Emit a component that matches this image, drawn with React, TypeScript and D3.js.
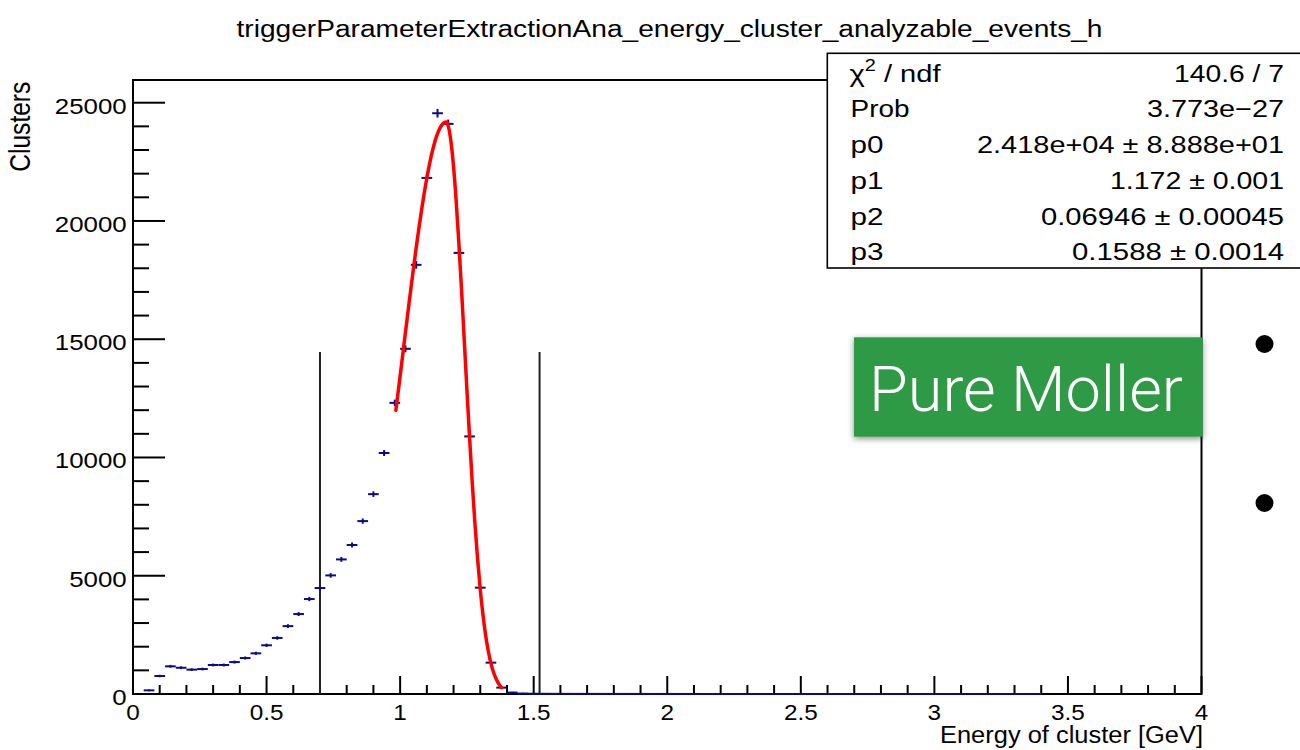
import React from "react";
import * as d3 from "d3";

// ---- data ----
const binWidth = 0.04;
const binCenters: number[] = d3.range(100).map((i) => 0.02 + i * 0.04);
const counts: number[] = [
  0, 155, 760, 1170, 1110, 1030, 1055, 1225, 1225, 1350,
  1520, 1720, 2060, 2370, 2870, 3380, 4015, 4480, 5015, 5690,
  6300, 7310, 8450, 10190, 12310, 14595, 18145, 21820, 24555, 24105,
  18650, 10890, 4495, 1325, 270, 60, 20, 12, 9, 7,
  6, 5, 5, 4, 4, 3, 3, 3, 2, 2,
  2, 2, 2, 1, 1, 1, 1, 1, 1, 1,
  1, 1, 1, 1, 1, 1, 1, 1, 1, 1,
  1, 1, 1, 1, 1, 1, 1, 1, 1, 1,
  1, 1, 1, 1, 1, 0, 0, 0, 0, 0,
  0, 0, 0, 0, 0, 0, 0, 0, 0, 0,
];

// fit curve
const fitX: number[] = [
  0.984, 0.99, 1.0, 1.01, 1.02, 1.03, 1.04, 1.05, 1.06, 1.07, 1.08, 1.09, 1.1, 1.11,
  1.12, 1.13, 1.14, 1.15, 1.16, 1.165, 1.172, 1.18, 1.19, 1.2, 1.21, 1.22, 1.23,
  1.24, 1.25, 1.26, 1.27, 1.28, 1.29, 1.3, 1.31, 1.32, 1.33, 1.34, 1.35, 1.36, 1.37, 1.38,
];
const fitY: number[] = [
  11995, 12540, 13447, 14370, 15294, 16210, 17118, 18000, 18855, 19673, 20445, 21162, 21818, 22405,
  22918, 23348, 23694, 23949, 24111, 24157, 24180, 24020, 23382, 22294, 20820, 19044, 17064,
  14975, 12871, 10838, 8937, 7218, 5711, 4425, 3359, 2498, 1819, 1298, 906, 620, 416, 273,
];

const cutLines: number[] = [0.7, 1.522];
const cutTop = 14460;

const xMajor: number[] = [0, 0.5, 1, 1.5, 2, 2.5, 3, 3.5, 4];
const xMajorLabels: string[] = ["0", "0.5", "1", "1.5", "2", "2.5", "3", "3.5", "4"];
const yMajor: number[] = [0, 5000, 10000, 15000, 20000, 25000];
const yMajorLabels: string[] = ["0", "5000", "10000", "15000", "20000", "25000"];

const statNames: string[] = ["χ2 / ndf", "Prob", "p0", "p1", "p2", "p3"];
const statValues: string[] = [
  "140.6 / 7",
  "3.773e\u221227",
  "2.418e+04 ± 8.888e+01",
  "1.172 ± 0.001",
  "0.06946 ± 0.00045",
  "0.1588 ± 0.0014",
];
const statNameWidths: number[] = [91, 59, 33, 33, 33, 33];
const statValueWidths: number[] = [110, 137, 307, 174, 243, 212];

const title = "triggerParameterExtractionAna_energy_cluster_analyzable_events_h";
const xTitle = "Energy of cluster [GeV]";
const yTitle = "Clusters";
const boxText = "Pure Moller";

const FONT = "'Liberation Sans', Arial, Helvetica, sans-serif";

export default function App() {
  const L = 133, R = 1201.5, T = 80, B = 694;
  const x = d3.scaleLinear().domain([0, 4]).range([L, R]);
  const y = d3.scaleLinear().domain([0, 25960]).range([B, T]);

  const xMinor = d3.range(0, 40.001, 1).map((i) => i / 10).filter((v) => Math.abs((v * 2) - Math.round(v * 2)) > 1e-6);
  const yMinor = d3.range(0, 26000, 1000).filter((v) => v % 5000 !== 0);

  const fitLine = d3
    .line<number>()
    .x((_, i) => x(fitX[i]))
    .y((d) => y(d))
    .curve(d3.curveMonotoneX)(fitY) as string;

  const blue = "#0b0b86";

  return (
    <svg
      width={1300}
      height={750}
      style={{ position: "absolute", left: 0, top: 0, background: "#fff" }}
      fontFamily={FONT}
    >
      <defs>
        <filter id="shadow" x="-10%" y="-20%" width="120%" height="150%">
          <feDropShadow dx="0" dy="2" stdDeviation="3" floodColor="#000" floodOpacity="0.45" />
        </filter>
      </defs>
      <rect x={0} y={0} width={1300} height={750} fill="#fff" />

      {/* title */}
      <text x={236.5} y={36.7} fontSize={23.5} textLength={866} lengthAdjust="spacingAndGlyphs" fill="#000">
        {title}
      </text>

      {/* frame */}
      <rect x={L} y={T} width={R - L} height={B - T} fill="none" stroke="#000" strokeWidth={2} />

      {/* x ticks */}
      {xMajor.map((v) => (
        <line key={"xM" + v} x1={x(v)} x2={x(v)} y1={B} y2={B - 18} stroke="#000" strokeWidth={2} />
      ))}
      {xMinor.map((v) => (
        <line key={"xm" + v} x1={x(v)} x2={x(v)} y1={B} y2={B - 9} stroke="#000" strokeWidth={2} />
      ))}
      {xMajor.map((v, i) => (
        <text
          key={"xl" + v}
          transform={`translate(${x(v)},719.5) scale(1.08,1)`}
          textAnchor="middle"
          fontSize={22.5}
          fill="#000"
        >
          {xMajorLabels[i]}
        </text>
      ))}
      <text
        x={1203}
        y={742.7}
        textAnchor="end"
        fontSize={23.5}
        textLength={263}
        lengthAdjust="spacingAndGlyphs"
        fill="#000"
      >
        {xTitle}
      </text>

      {/* y ticks */}
      {yMajor.map((v) => (
        <line key={"yM" + v} x1={L} x2={L + 32} y1={y(v)} y2={y(v)} stroke="#000" strokeWidth={2} />
      ))}
      {yMinor.map((v) => (
        <line key={"ym" + v} x1={L} x2={L + 16} y1={y(v)} y2={y(v)} stroke="#000" strokeWidth={2} />
      ))}
      {yMajor.map((v, i) => (
        <text
          key={"yl" + v}
          transform={`translate(126.7,${y(v) + 10.9}) scale(1.15,1)`}
          textAnchor="end"
          fontSize={22.5}
          fill="#000"
        >
          {yMajorLabels[i]}
        </text>
      ))}
      <text
        transform={`translate(30,81.7) rotate(-90) scale(1,1.2)`}
        textAnchor="end"
        fontSize={24.5}
        textLength={90}
        lengthAdjust="spacingAndGlyphs"
        fill="#000"
      >
        {yTitle}
      </text>

      {/* cut lines */}
      {cutLines.map((v) => (
        <line key={"cut" + v} x1={x(v)} x2={x(v)} y1={y(0)} y2={y(cutTop)} stroke="#222" strokeWidth={2} />
      ))}

      {/* histogram points */}
      {counts.map((c, i) =>
        c > 0 ? (
          <g key={"p" + i}>
            <line
              x1={x(binCenters[i] - binWidth / 2)}
              x2={x(binCenters[i] + binWidth / 2)}
              y1={y(c)}
              y2={y(c)}
              stroke={blue}
              strokeWidth={2}
            />
            <line
              x1={x(binCenters[i])}
              x2={x(binCenters[i])}
              y1={y(c + Math.sqrt(c)) - 0.6}
              y2={y(c - Math.sqrt(c)) + 0.6}
              stroke={blue}
              strokeWidth={2}
            />
          </g>
        ) : null
      )}

      {/* fit */}
      <path d={fitLine} fill="none" stroke="#ff0000" strokeWidth={3.5} strokeLinecap="round" />

      {/* stat box */}
      <rect x={827.3} y={53.3} width={480} height={214.7} fill="#fff" stroke="#000" strokeWidth={1.6} />
      {statNames.map((n, i) => {
        const by = 81.7 + i * 35.7;
        return (
          <g key={"st" + i}>
            {i === 0 ? (
              <text x={849.5} y={by} fontSize={23.5} fill="#000" textLength={statNameWidths[i]} lengthAdjust="spacingAndGlyphs">
                χ<tspan fontSize={16} dy={-11}>2</tspan>
                <tspan dy={11}> / ndf</tspan>
              </text>
            ) : (
              <text x={850.5} y={by} fontSize={23.5} fill="#000" textLength={statNameWidths[i]} lengthAdjust="spacingAndGlyphs">
                {n}
              </text>
            )}
            <text
              x={1284}
              y={by}
              fontSize={23.5}
              textAnchor="end"
              fill="#000"
              textLength={statValueWidths[i]}
              lengthAdjust="spacingAndGlyphs"
            >
              {statValues[i]}
            </text>
          </g>
        );
      })}

      {/* overlay label box */}
      <rect x={854} y={337.3} width={348.7} height={99.4} fill="#2f9a45" filter="url(#shadow)" />
      <text
        x={869}
        y={410.7}
        fontSize={63}
        fontWeight={300}
        fontFamily="Roboto, Lato, 'Open Sans', sans-serif"
        fill="#fff"
        textLength={314}
        lengthAdjust="spacingAndGlyphs"
      >
        {boxText}
      </text>

      {/* bullets */}
      <circle cx={1264.5} cy={344} r={9} fill="#000" />
      <circle cx={1264.5} cy={503} r={9} fill="#000" />
    </svg>
  );
}
